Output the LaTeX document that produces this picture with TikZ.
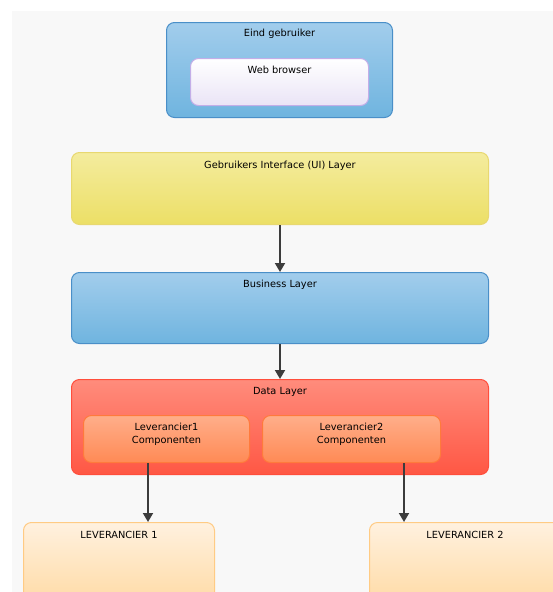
\documentclass[tikz,border=0pt]{standalone}
\usepackage{fontspec}
\setmainfont{DejaVu Sans}
\usetikzlibrary{arrows.meta,calc}
\definecolor{bgc}{HTML}{F8F8F8}
\definecolor{bluetop}{HTML}{A2CDEC}
\definecolor{bluebot}{HTML}{6FB4DF}
\definecolor{blueline}{HTML}{4A8FC8}
\definecolor{wbtop}{HTML}{FFFFFF}
\definecolor{wbbot}{HTML}{EAE4F6}
\definecolor{wbline}{HTML}{C3AEE8}
\definecolor{ylwtop}{HTML}{F4EC9E}
\definecolor{ylwbot}{HTML}{ECDF66}
\definecolor{ylwline}{HTML}{E8D870}
\definecolor{redtop}{HTML}{FF8C7C}
\definecolor{redbot}{HTML}{FF5744}
\definecolor{redline}{HTML}{FF4E3C}
\definecolor{ortop}{HTML}{FFAE8A}
\definecolor{orbot}{HTML}{FF8A55}
\definecolor{orline}{HTML}{FF7A3C}
\definecolor{pchtop}{HTML}{FFF1DF}
\definecolor{pchbot}{HTML}{FFDBA6}
\definecolor{pchline}{HTML}{FFCB84}
\definecolor{arr}{HTML}{3C3C3C}
\begin{document}
\begin{tikzpicture}[x=1pt,y=-1pt,
  box/.style={rounded corners=8pt, line width=1pt, inner sep=0pt, anchor=north west},
  bluebox/.style={box, draw=blueline, top color=bluetop, bottom color=bluebot},
  wbbox/.style={box, draw=wbline, top color=wbtop, bottom color=wbbot},
  ylwbox/.style={box, draw=ylwline, top color=ylwtop, bottom color=ylwbot},
  redbox/.style={box, draw=redline, top color=redtop, bottom color=redbot},
  orbox/.style={box, draw=orline, top color=ortop, bottom color=orbot},
  pchbox/.style={box, draw=pchline, top color=pchtop, bottom color=pchbot},
  txt/.style={font=\fontsize{9.8}{13}\selectfont, text=black, inner sep=0pt, align=center, anchor=center},
  conn/.style={draw=arr, line width=1.8pt, -{Triangle[length=9pt,width=10pt]}}
]
\useasboundingbox (0,0) rectangle (553,592);
\fill[bgc] (12,11) rectangle (553,592);

\node[bluebox, minimum width=226pt, minimum height=95pt] (eu) at (166,22) {};
\node[txt] (eut) at ([yshift=-12pt]eu.north) {Eind gebruiker};
\node[wbbox, minimum width=178pt, minimum height=47pt] (wb) at (190,58) {};
\node[txt] (wbt) at ([yshift=-12pt]wb.north) {Web browser};

\node[ylwbox, minimum width=417pt, minimum height=72pt] (ui) at (71,152) {};
\node[txt] (uit) at ([yshift=-13.5pt]ui.north) {Gebruikers Interface (UI) Layer};

\node[bluebox, minimum width=417pt, minimum height=71pt] (bl) at (71,272) {};
\node[txt] (blt) at ([yshift=-12.5pt]bl.north) {Business Layer};

\node[redbox, minimum width=417pt, minimum height=95pt] (dl) at (71,379) {};
\node[txt] (dlt) at ([yshift=-12.5pt]dl.north) {Data Layer};

\node[orbox, minimum width=166pt, minimum height=47pt] (c1) at (83,415) {};
\node[txt] (c1t) at ([yshift=-19pt]c1.north) {Leverancier1\\Componenten};
\node[orbox, minimum width=178pt, minimum height=47pt] (c2) at (262,415) {};
\node[txt] (c2t) at ([yshift=-19pt]c2.north) {Leverancier2\\Componenten};

\begin{scope}
\clip (0,0) rectangle (553,592);
\node[pchbox, minimum width=191pt, minimum height=80pt] (l1) at (23,522) {};
\node[pchbox, minimum width=191pt, minimum height=80pt] (l2) at (369,522) {};
\end{scope}
\node[txt] (l1t) at ([yshift=-13pt]l1.north) {LEVERANCIER 1};
\node[txt] (l2t) at ([yshift=-13pt]l2.north) {LEVERANCIER 2};

\coordinate (x1) at (148,0);
\coordinate (x2) at (404,0);
\coordinate (xm) at (280,0);

\draw[conn] (xm |- ui.south) -- (xm |- bl.north);
\draw[conn] (xm |- bl.south) -- (xm |- dl.north);
\draw[conn] (x1 |- c1.south) -- (x1 |- l1.north);
\draw[conn] (x2 |- c2.south) -- (x2 |- l2.north);
\end{tikzpicture}
\end{document}
